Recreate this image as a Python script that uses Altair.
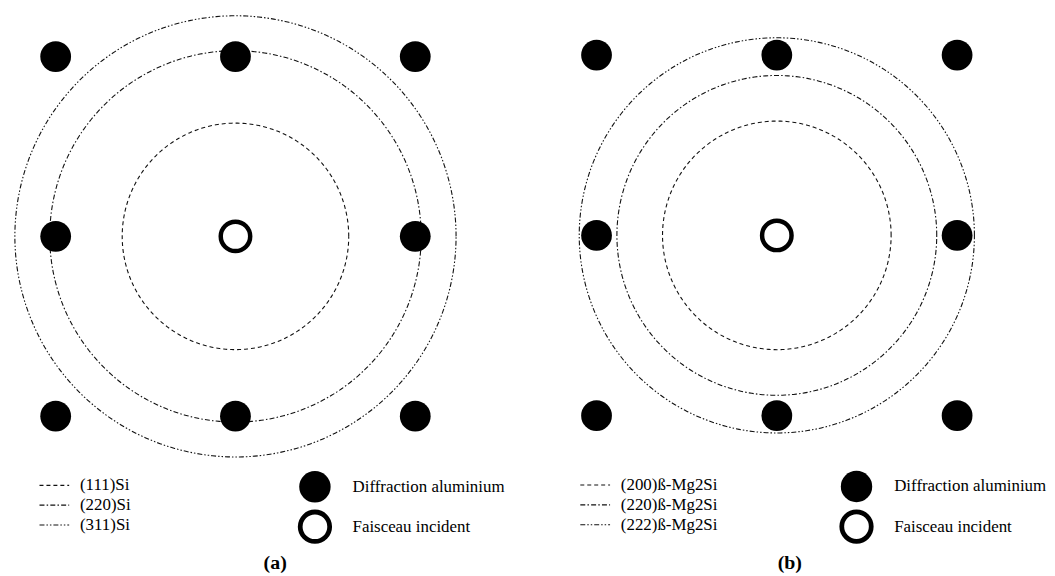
import altair as alt
import numpy as np
import pandas as pd

# ---- data (lattice units: spacing between aluminium spots = 1) ----
spot_x = [-1, 0, 1, -1, 1, -1, 0, 1]
spot_y = [1, 1, 1, 0, 0, -1, -1, -1]
beam_x = [0]
beam_y = [0]

rings_a_labels = ["(111)Si", "(220)Si", "(311)Si"]
rings_a_radius = [0.630, 1.033, 1.227]
rings_b_labels = ["(200)ß-Mg2Si", "(220)ß-Mg2Si", "(222)ß-Mg2Si"]
rings_b_radius = [0.634, 0.887, 1.096]

spot_legend_labels = ["Diffraction aluminium", "Faisceau incident"]
panel_tags = ["(a)", "(b)"]

DASHES = [[4, 3], [5, 2.2, 1.5, 2.2], [5, 2, 1.5, 2, 1.5, 2]]
FONT = "'Liberation Serif', 'Times New Roman', 'DejaVu Serif', serif"
INK = "#111111"
H = 560


def ring_table(labels, radii):
    rows = []
    t = np.linspace(0, 2 * np.pi, 361)
    for lab, r in zip(labels, radii):
        for k, a in enumerate(t):
            rows.append({"ring": lab, "k": k, "x": r * np.cos(a), "y": r * np.sin(a)})
    return pd.DataFrame(rows)


def panel(labels, radii, tag, tag_x, W, cx, cy, S):
    xs = alt.Scale(domain=[-cx / S, (W - cx) / S], nice=False, zero=False)
    ys = alt.Scale(domain=[-(H - cy) / S, cy / S], nice=False, zero=False)
    X = lambda f="x": alt.X(f"{f}:Q", scale=xs, axis=None)
    Y = lambda f="y": alt.Y(f"{f}:Q", scale=ys, axis=None)
    dash = alt.StrokeDash("ring:N", scale=alt.Scale(domain=labels, range=DASHES), legend=None)

    rings = alt.Chart(ring_table(labels, radii)).mark_line(
        strokeWidth=1.1, color=INK
    ).encode(x=X(), y=Y(), strokeDash=dash, detail="ring:N", order="k:Q")

    spots = alt.Chart(pd.DataFrame({"x": spot_x, "y": spot_y})).mark_point(
        shape="circle", filled=True, size=960, color="black", opacity=1
    ).encode(x=X(), y=Y())

    beam = alt.Chart(pd.DataFrame({"x": beam_x, "y": beam_y})).mark_point(
        shape="circle", filled=False, size=880, strokeWidth=4.5, color="black", opacity=1
    ).encode(x=X(), y=Y())

    # legend layout (in lattice units)
    rows_y = [-1.385, -1.495, -1.605]
    leg = pd.DataFrame({"ring": labels, "x": -1.09, "x2": -0.925, "tx": -0.865, "y": rows_y})
    leg_lines = alt.Chart(leg).mark_rule(strokeWidth=1.1, color=INK).encode(
        x=X(), x2="x2:Q", y=Y(), strokeDash=dash
    )
    leg_text = alt.Chart(leg).mark_text(
        align="left", baseline="middle", font=FONT, fontSize=17, color="black"
    ).encode(x=X("tx"), y=Y(), text="ring:N")

    sl = pd.DataFrame({"lab": spot_legend_labels, "x": 0.442, "tx": 0.651,
                       "y": [-1.393, -1.615], "kind": ["dot", "ring"]})
    leg_dot = alt.Chart(sl[sl.kind == "dot"]).mark_point(
        shape="circle", filled=True, size=1000, color="black", opacity=1
    ).encode(x=X(), y=Y())
    leg_ring = alt.Chart(sl[sl.kind == "ring"]).mark_point(
        shape="circle", filled=False, size=880, strokeWidth=4.8, color="black", opacity=1
    ).encode(x=X(), y=Y())
    leg_stext = alt.Chart(sl).mark_text(
        align="left", baseline="middle", font=FONT, fontSize=17, color="black"
    ).encode(x=X("tx"), y=Y(), text="lab:N")

    tag_df = pd.DataFrame({"t": [tag], "x": [tag_x], "y": [-1.818]})
    tag_text = alt.Chart(tag_df).mark_text(
        align="center", baseline="middle", font=FONT, fontSize=20, fontWeight="bold", color="black"
    ).encode(x=X(), y=Y(), text="t:N")

    return alt.layer(rings, spots, beam, leg_lines, leg_text, leg_dot, leg_ring,
                     leg_stext, tag_text).properties(width=W, height=H)


pa = panel(rings_a_labels, rings_a_radius, panel_tags[0], 0.221, 519, 229, 228, 181.0)
pb = panel(rings_b_labels, rings_b_radius, panel_tags[1], 0.072, 520, 255, 227, 181.5)

chart = alt.hconcat(pa, pb, spacing=0).properties(padding=0).configure_view(stroke=None)
chart.save("out.html", embed_options={"renderer": "svg", "actions": False})
